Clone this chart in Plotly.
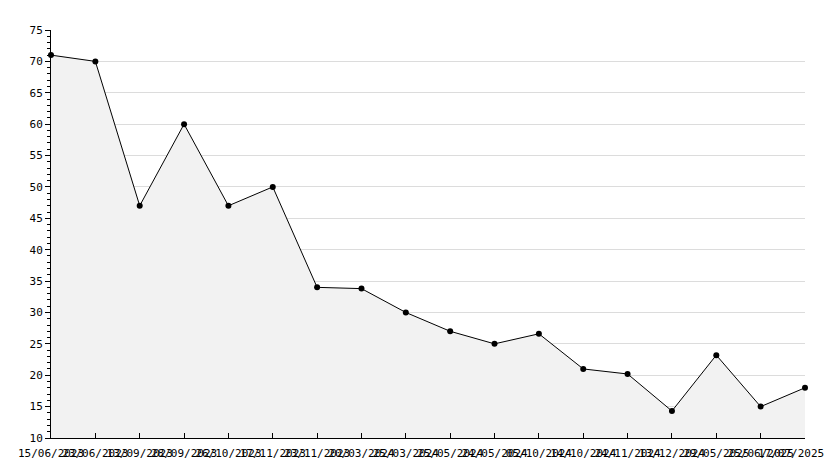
import plotly.graph_objects as go

dates = ["15/06/2023", "23/06/2023", "13/09/2023", "28/09/2023", "26/10/2023",
         "17/11/2023", "23/11/2023", "20/03/2024", "25/03/2024", "25/05/2024",
         "24/05/2024", "05/10/2024", "14/10/2024", "24/11/2024", "13/12/2024",
         "29/05/2025", "25/06/2025", "17/07/2025"]
values = [71, 70, 47, 60, 47, 50, 34, 33.8, 30, 27, 25, 26.6, 21, 20.2, 14.3, 23.2, 15, 18]
yticks = [10, 15, 20, 25, 30, 35, 40, 45, 50, 55, 60, 65, 70, 75]

xs = list(range(len(dates)))
ticktext = dates[:-1] + [""]

fig = go.Figure()
fig.add_trace(go.Scatter(
    x=xs, y=values, mode="lines+markers",
    line=dict(color="black", width=1),
    marker=dict(symbol="circle", size=6, color="black"),
    fill="tozeroy", fillcolor="#f2f2f2",
    hoverinfo="skip", cliponaxis=False,
))

# last date label kept inside the picture, as in the reference
fig.add_annotation(
    x=xs[-1], y=0, xref="x", yref="paper",
    text=dates[-1], showarrow=False,
    xanchor="right", yanchor="top", xshift=21, yshift=-7,
    font=dict(family="DejaVu Sans Mono", size=11, color="black"),
)

# page body has an 8px default margin; figure placed at (8, 8)
fig.update_layout(
    width=818, height=452,
    margin=dict(l=43, r=21, t=22, b=22),
    paper_bgcolor="white", plot_bgcolor="white",
    showlegend=False,
    font=dict(family="DejaVu Sans Mono", size=11, color="black"),
    xaxis=dict(
        range=[0, len(dates) - 1], automargin=False,
        tickvals=xs, ticktext=ticktext, tickangle=0,
        ticklabeloverflow="allow", ticklabelstandoff=5,
        showgrid=False, zeroline=False,
        showline=True, linecolor="black", linewidth=1,
        ticks="inside", ticklen=5, tickcolor="black",
        tickfont=dict(size=11),
    ),
    yaxis=dict(
        range=[10, 75], automargin=False,
        tickvals=yticks,
        showgrid=True, gridcolor="#dcdcdc", gridwidth=1,
        zeroline=False,
        showline=True, linecolor="black", linewidth=1,
        ticks="outside", ticklen=5, tickcolor="black",
        minor=dict(dtick=1, ticks="outside", ticklen=3, tickcolor="black", showgrid=False),
        tickfont=dict(size=11),
    ),
)

fig.write_html("out.html")
